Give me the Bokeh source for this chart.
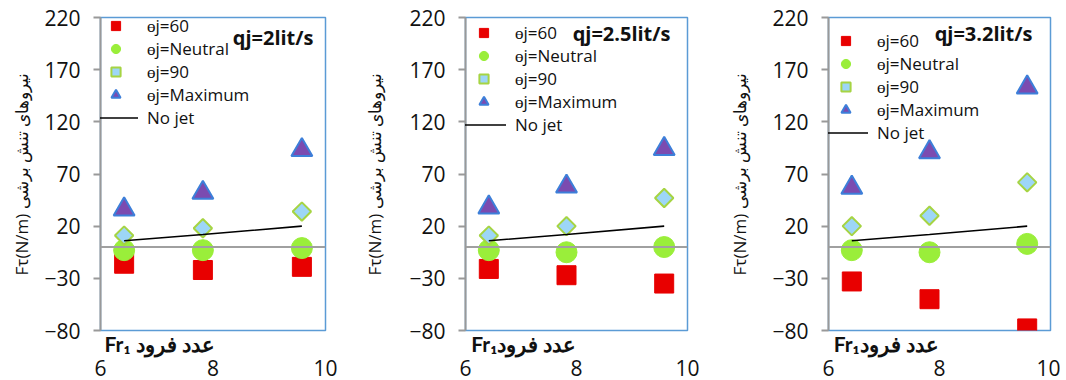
import math
from bokeh.plotting import figure
from bokeh.layouts import row
from bokeh.models import (Range1d, FixedTicker, Span, Label, Legend, LegendItem,
                          ColumnDataSource, LinearAxis)
from bokeh.embed import file_html
from bokeh.resources import INLINE

# ---------------- data ----------------
fr = [6.42, 7.82, 9.58]
titles = ["qj=2lit/s", "qj=2.5lit/s", "qj=3.2lit/s"]
theta60 = [[-16, -22, -19], [-21, -27, -35], [-33, -50, -78]]
neutral = [[-3, -3, -1], [-3, -5, 0], [-3, -5, 3]]
theta90 = [[11, 18, 34], [11, 20, 47], [20, 30, 62]]
maximum = [[36, 52, 93], [38, 58, 94], [57, 91, 153]]
nojet = [[6, 12, 20], [6, 12, 20], [6, 12, 20]]
legend_labels = ["ɵj=60", "ɵj=Neutral", "ɵj=90", "ɵj=Maximum", "No jet"]
y_ticks = [-80, -30, 20, 70, 120, 170, 220]
x_ticks = [6, 8, 10]
y_label = "Fτ(N/m) نیروهای تنش برشی"
x_labels = ["Fr₁ عدد فرود", "Fr₁عدد فرود", "Fr₁عدد فرود"]

# ---------------- layout (per panel) ----------------
widths = [355, 355, 350]
b_left = [100, 110, 118]
b_right = [30, 23, 10]
legend_loc = [(-7, 201), (-4, 194), (-5, 186)]
title_pos = [(213, 293), (205, 297), (204, 297)]
ylab_standoff = [8, 20, 18]
xtitle_at = [7.05, 7.05, 7.04]   # where the x-axis title is centred

FONT = "Open Sans"

figs = []
for i in range(3):
    p = figure(width=widths[i], height=380, output_backend="svg",
               toolbar_location=None, x_range=Range1d(6, 10),
               y_range=Range1d(-80, 220),
               min_border_left=b_left[i], min_border_right=b_right[i],
               min_border_top=17, min_border_bottom=50)
    p.grid.visible = False
    p.outline_line_color = "#5b9bd5"
    p.outline_line_width = 1.5
    p.background_fill_color = "white"
    p.border_fill_color = "white"

    # y axis
    p.yaxis.ticker = FixedTicker(ticks=y_ticks)
    p.yaxis.axis_line_color = "#999999"
    p.yaxis.axis_line_width = 2
    p.yaxis.major_tick_line_color = "#999999"
    p.yaxis.major_tick_line_width = 2
    p.yaxis.major_tick_out = 7
    p.yaxis.major_tick_in = 0
    p.yaxis.minor_tick_line_color = None
    p.yaxis.major_label_standoff = 13
    p.yaxis.major_label_text_font = FONT
    p.yaxis.major_label_text_font_size = "21px"
    p.yaxis.major_label_text_color = "#111111"
    p.yaxis.axis_label = y_label
    p.yaxis.axis_label_standoff = ylab_standoff[i]
    p.yaxis.axis_label_text_font = FONT
    p.yaxis.axis_label_text_font_style = "normal"
    p.yaxis.axis_label_text_font_size = "17px"
    p.yaxis.axis_label_text_color = "#111111"

    # x axis title (nearest to the frame): one labelled position, no tick marks
    xa = p.xaxis[0]
    xa.ticker = FixedTicker(ticks=[xtitle_at[i]])
    xa.major_label_overrides = {xtitle_at[i]: x_labels[i]}
    xa.axis_line_color = None
    xa.major_tick_line_color = None
    xa.minor_tick_line_color = None
    xa.major_tick_out = 0
    xa.major_tick_in = 0
    xa.minor_tick_out = 0
    xa.major_label_standoff = 0
    xa.major_label_text_font = "Lato"
    xa.major_label_text_font_style = "bold"
    xa.major_label_text_font_size = "21px"
    xa.major_label_text_color = "#111111"

    # x tick labels (below the title)
    xb = LinearAxis(ticker=FixedTicker(ticks=x_ticks))
    xb.axis_line_color = None
    xb.major_tick_line_color = None
    xb.minor_tick_line_color = None
    xb.major_tick_out = 0
    xb.major_tick_in = 0
    xb.minor_tick_out = 0
    xb.major_label_standoff = 1
    xb.major_label_text_font = FONT
    xb.major_label_text_font_size = "21px"
    xb.major_label_text_color = "#111111"
    p.add_layout(xb, "below")

    p.add_layout(Span(location=0, dimension="width", line_color="#a0a0a0",
                      line_width=2))

    src = ColumnDataSource(dict(x=fr, a=theta60[i], b=neutral[i],
                                c=theta90[i], d=maximum[i], e=nojet[i]))
    r1 = p.scatter("x", "a", source=src, marker="square", size=19,
                   fill_color="#e80000", line_color="#e80000")
    r2 = p.scatter("x", "b", source=src, marker="circle", size=21,
                   fill_color="#9aee3a", line_color="#9aee3a")
    r3 = p.scatter("x", "c", source=src, marker="square", size=13,
                   angle=math.pi / 4, fill_color="#9dd6f7",
                   line_color="#a6d443", line_width=2)
    r4 = p.scatter("x", "d", source=src, marker="triangle", size=21,
                   fill_color="#7b4bb0", line_color="#3d7fd9", line_width=2)
    r5 = p.line("x", "e", source=src, line_color="black", line_width=1.6)

    legend = Legend(items=[LegendItem(label=legend_labels[k], renderers=[r])
                           for k, r in enumerate([r1, r2, r3, r4, r5])],
                    location=legend_loc[i], glyph_width=45, glyph_height=23,
                    label_height=20,
                    spacing=0, label_standoff=9, padding=0, margin=0,
                    background_fill_alpha=0, border_line_alpha=0,
                    label_text_font=FONT, label_text_font_size="17px",
                    label_text_color="#111111")
    p.add_layout(legend)

    # panel title
    tx, ty = title_pos[i]
    p.add_layout(Label(x=tx, y=ty, x_units="screen", y_units="screen",
                       text=titles[i], text_font=FONT, text_font_style="bold",
                       text_font_size="20px", text_align="right",
                       text_baseline="middle", text_color="#111111"))
    figs.append(p)

layout = row(*figs)
open("out.html", "w").write(file_html(layout, INLINE))
